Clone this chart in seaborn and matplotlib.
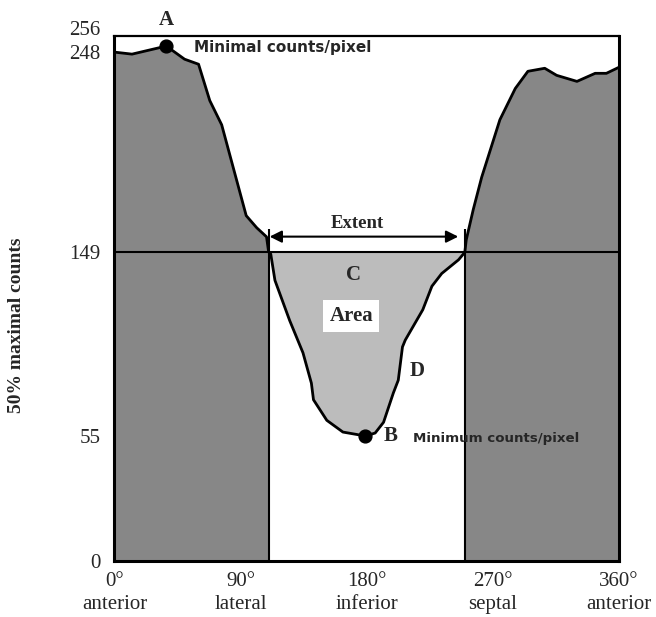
import numpy as np
import matplotlib
matplotlib.use("Agg")
import matplotlib.pyplot as plt
import seaborn as sns

# Circumferential count profile (angle in degrees, counts per pixel)
angle = [0, 12.5, 37, 43, 50, 60, 68, 76.5, 94, 101.5, 108.5, 110, 111.5,
         114.5, 125, 134.5, 140.5, 142, 151.5, 163, 179, 186, 192, 199,
         202.5, 205.5, 207.5, 220, 226.5, 233.5, 245.5, 249, 250, 251, 256,
         262, 275, 286, 295, 307, 315.5, 330, 343, 351, 360]
counts = [248, 247, 251, 248, 244.5, 242, 224, 212, 167, 161, 156.5, 149, 148,
          134.5, 114, 97.5, 82, 73.5, 63, 57, 55, 56.5, 62, 77,
          83.5, 100.5, 104, 119.5, 131.5, 138, 145, 148, 149, 155, 170,
          186, 214.5, 230, 238.5, 240, 236.5, 233.5, 237.5, 237.5, 240.5]

threshold = 149          # 50% of maximal counts
extent_start = 110       # where the profile drops below the threshold
extent_end = 250         # where it rises above it again
max_point = (37, 251)    # A
min_point = (179, 55)    # B

x_ticks = [0, 90, 180, 270, 360]
x_labels = ["0°\nanterior", "90°\nlateral", "180°\ninferior",
            "270°\nseptal", "360°\nanterior"]
y_ticks = [0, 55, 149, 248, 256]

sns.set_style("white")
plt.rcParams["font.family"] = ["Liberation Serif", "DejaVu Sans"]

df_x = np.array(angle, dtype=float)
df_y = np.array(counts, dtype=float)

# Schematic count axis: piecewise linear between the labelled levels
knot_val = np.array([-1000.0, 0.0, 55.0, 149.0, 256.0, 1256.0])
knot_pos = np.array([-1000.0 * 125 / 55, 0.0, 125.0, 309.0, 525.0,
                     525.0 + 1000.0 * 216 / 107])


def fwd(v):
    return np.interp(v, knot_val, knot_pos)


def inv(p):
    return np.interp(p, knot_pos, knot_val)


fig = plt.figure(figsize=(6.56, 6.17), dpi=100)
ax = fig.add_axes([0.1745, 0.0908, 0.7691, 0.8509])
ax.set_yscale("function", functions=(fwd, inv))

dark = "#878787"
light = "#bcbcbc"

outside = (df_x <= extent_start) | (df_x >= extent_end)
inside = (df_x >= extent_start) & (df_x <= extent_end)
ax.fill_between(df_x, 0, df_y, where=outside, color=dark, lw=0, zorder=1)
ax.fill_between(df_x, df_y, threshold, where=inside, color=light, lw=0,
                zorder=1)

sns.lineplot(x=df_x, y=df_y, sort=False, estimator=None, color="black",
             lw=2.0, ax=ax, zorder=4)

ax.axhline(threshold, color="black", lw=1.5, zorder=3)
ax.vlines([extent_start, extent_end], 0, 160.5, color="black", lw=1.5,
          zorder=3)

ax.scatter([max_point[0], min_point[0]], [max_point[1], min_point[1]],
           s=85, color="black", zorder=5)

# Extent arrow
ax.annotate("", xy=(110.7, 156.6), xytext=(245.3, 156.6),
            arrowprops=dict(arrowstyle="<|-|>", color="black", lw=1.5,
                            mutation_scale=18, shrinkA=0, shrinkB=0),
            zorder=5)
ax.text(173.4, 163, "Extent", ha="center", va="center", fontsize=13.5,
        fontweight="bold")

bold = dict(fontsize=15, fontweight="bold", ha="center", va="center")
ax.annotate("A", max_point, xytext=(0, 19), textcoords="offset points",
            annotation_clip=False, **bold)
ax.annotate("Minimal counts/pixel", max_point, xytext=(20, -1),
            textcoords="offset points", ha="left", va="center",
            fontsize=11, fontweight="bold", family="DejaVu Sans")
ax.annotate("B", min_point, xytext=(18, 0), textcoords="offset points",
            **bold)
ax.annotate("Minimum counts/pixel", min_point, xytext=(34, -2),
            textcoords="offset points", ha="left", va="center",
            fontsize=9.6, fontweight="bold", family="DejaVu Sans", zorder=6)
ax.text(170.5, 137.3, "C", **bold)
ax.text(215.6, 88, "D", **bold)
ax.text(168.9, 116.3, "Area", fontsize=15, fontweight="bold", ha="center",
        va="center", bbox=dict(facecolor="white", edgecolor="none",
                               boxstyle="square,pad=0.3"), zorder=6)

ax.set_xlim(0, 360)
ax.set_ylim(0, 256)
ax.set_xticks(x_ticks)
ax.set_xticklabels(x_labels, fontsize=15, linespacing=1.25)
ax.set_yticks(y_ticks)
# the top label sits slightly raised so it clears the 248 label
ax.set_yticklabels([str(v) if v != 256 else "" for v in y_ticks], fontsize=15)
ax.annotate("256", xy=(0, 256), xycoords=("axes fraction", "data"),
            xytext=(-10, 4), textcoords="offset points", ha="right",
            va="center", fontsize=15, annotation_clip=False)
ax.tick_params(axis="x", which="major", length=0, pad=8)
ax.tick_params(axis="y", length=0, pad=10)
ax.xaxis.remove_overlapping_locs = False
ax.set_xticks([180], minor=True)
ax.tick_params(axis="x", which="minor", direction="in", length=9.5,
               width=2, color="black")
ax.set_xlabel("")
ax.set_ylabel("")

for side in ["left", "right", "bottom"]:
    ax.spines[side].set_linewidth(2.2)
    ax.spines[side].set_color("black")
ax.spines["top"].set_linewidth(1.6)
ax.spines["top"].set_color("black")

fig.text(16.7 / 656, 1 - 325 / 617, "50% maximal counts", rotation=90,
         ha="center", va="center", fontsize=14, fontweight="bold")

fig.savefig("out.png", dpi=100)
